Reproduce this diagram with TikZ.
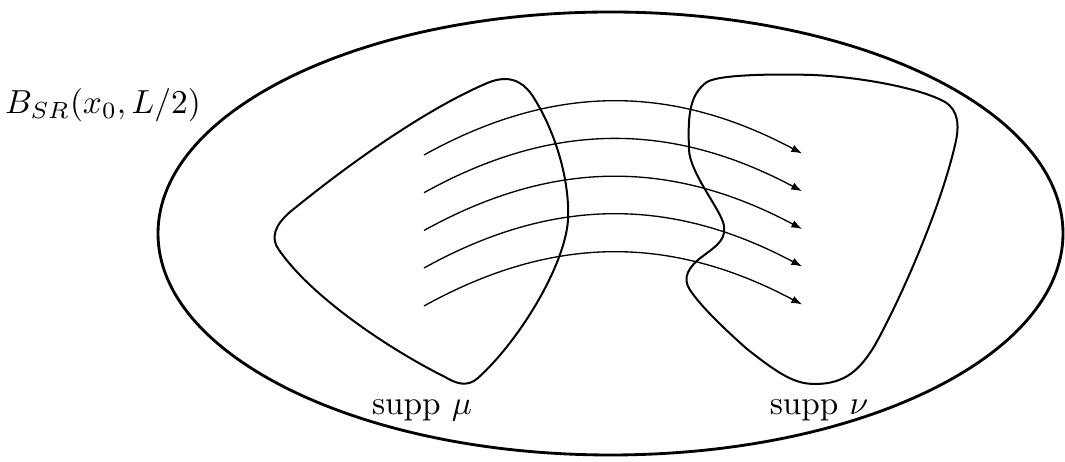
\documentclass[tikz,border=0pt]{standalone}
\usetikzlibrary{arrows.meta}
\begin{document}
\begin{tikzpicture}[x=0.3pt,y=-0.3pt,
  ballline/.style={line width=0.85pt},
  blobline/.style={line width=0.6pt},
  flow/.style={line width=0.4pt,-{Latex[length=3.2pt,width=2.3pt]}},
  lbl/.style={inner sep=0pt}]
\useasboundingbox (0,0) rectangle (1065,462);
% ball
\draw[ballline] (610.5,233.5) ellipse [x radius=452.5, y radius=221.5];
\node[lbl] (ball) at (103,105) {$B_{SR}(x_0,L/2)$};
% supp mu
\draw[blobline] (290,212) .. controls (360,155) and (430,108) .. (485,84)
  .. controls (505,75) and (520,78) .. (532,95)
  .. controls (555,130) and (570,180) .. (568,220)
  .. controls (565,265) and (520,340) .. (478,378)
  .. controls (467,388) and (455,383) .. (445,377)
  .. controls (385,347) and (310,295) .. (279,250)
  .. controls (270,238) and (275,225) .. (290,212) -- cycle;
% supp nu
\draw[blobline] (707,82) .. controls (720,74) and (780,74) .. (813,75)
  .. controls (860,77) and (920,88) .. (945,102)
  .. controls (958,110) and (960,125) .. (955,145)
  .. controls (940,210) and (900,300) .. (875,345)
  .. controls (860,370) and (845,384) .. (815,384)
  .. controls (795,384) and (780,375) .. (747,349)
  .. controls (720,325) and (700,305) .. (690,290)
  .. controls (682,278) and (688,267) .. (703,256)
  .. controls (718,245) and (728,238) .. (723,222)
  .. controls (717,205) and (690,172) .. (689,150)
  .. controls (688,120) and (688,95) .. (707,82) -- cycle;
\node[lbl] (mu) at (422,410) {supp $\mu$};
\node[lbl] (nu) at (819,410) {supp $\nu$};
% transport arrows
\foreach \i/\y in {1/155,2/192.7,3/230.5,4/268,5/306}{
  \coordinate (s\i) at (424,\y);
  \coordinate (t\i) at (802,\y-1.5);
  \draw[flow] (s\i) to[out=29,in=152] (t\i);
}
\end{tikzpicture}
\end{document}
